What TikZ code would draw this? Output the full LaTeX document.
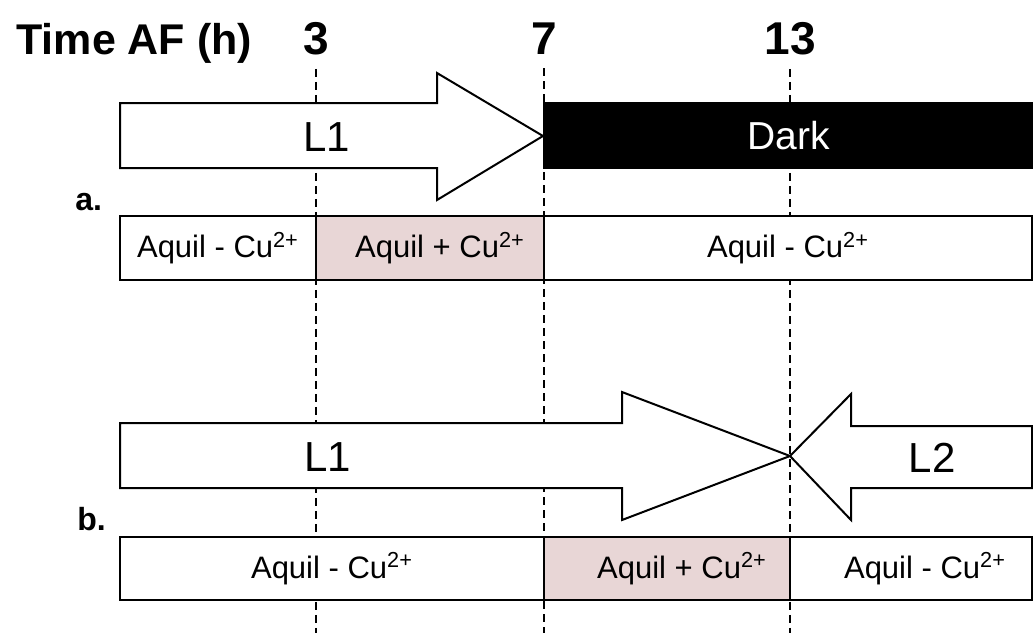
\documentclass[tikz,border=0pt]{standalone}
\usepackage{fontspec}
\setmainfont{Liberation Sans}
\usepackage{xcolor}
\definecolor{cupink}{RGB}{232,214,214}
\usetikzlibrary{positioning}

\begin{document}
\begin{tikzpicture}[
      x=0.5pt, y=-0.5pt,
      node distance=0pt,
      guide/.style={draw=black, line width=0.9pt, dash pattern=on 4pt off 2.5pt},
      timelbl/.style={font=\fontsize{23}{28}\selectfont\bfseries, anchor=base, inner sep=7pt},
      panel/.style={font=\fontsize{16}{19}\selectfont\bfseries, anchor=base west, inner sep=0pt},
      lightarrow/.style={draw=black, line width=1pt, fill=white, line join=miter},
      lightlbl/.style={font=\fontsize{21}{25}\selectfont},
      seg/.style={draw=black, line width=1pt, fill=white, outer sep=0pt, inner sep=0pt,
                  minimum height=32pt, font=\fontsize{15.5}{19}\selectfont},
      pinkseg/.style={seg, fill=cupink},
      darkbox/.style={draw=black, fill=black, line width=1pt, outer sep=0pt, inner sep=0pt,
                      minimum width=244.5pt, minimum height=32.5pt, text=white,
                      font=\fontsize{19.5}{23}\selectfont}
    ]
    \useasboundingbox (0,0) rectangle (1033,633);

    % time axis
    \node[timelbl, font=\fontsize{21.5}{26}\selectfont\bfseries, anchor=base west, inner sep=0pt]
      (title) at (16,54) {Time AF (h)};
    \foreach \t/\x in {3/316, 7/544, 13/790} {
      \node[timelbl] (h\t) at (\x,54) {\t};
      \coordinate (e\t) at (\x,633);
      \draw[guide] (h\t.south) -- (e\t);
    }

    % a.
    \draw[lightarrow] (120,103) -- (437,103) -- (437,73) -- (543,136)
      -- (437,200) -- (437,168) -- (120,168) -- cycle;
    \node[lightlbl] (l1a) at (327,137) {L1};
    \node[darkbox, anchor=north west] (dark) at (544,103) {Dark};

    \node[panel] (pa) at (75,210) {a.};
    \node[seg, minimum width=98pt, anchor=north west] (a1) at (120,216)
      {Aquil - Cu\textsuperscript{2+}};
    \node[pinkseg, minimum width=114pt, right=of a1] (a2)
      {\hspace{10pt}Aquil + Cu\textsuperscript{2+}};
    \node[seg, minimum width=244pt, right=of a2] (a3)
      {Aquil - Cu\textsuperscript{2+}};

    % b.
    \draw[lightarrow] (120,423) -- (622,423) -- (622,392) -- (790,456)
      -- (622,520) -- (622,488) -- (120,488) -- cycle;
    \draw[lightarrow] (1032,426) -- (851,426) -- (851,394) -- (790,456)
      -- (851,520) -- (851,488) -- (1032,488) -- cycle;
    \node[lightlbl] (l1b) at (328,457) {L1};
    \node[lightlbl] (l2b) at (932,458) {L2};

    \node[panel] (pb) at (77,530) {b.};
    \node[seg, minimum width=212pt, minimum height=31.5pt, anchor=north west] (b1) at (120,537)
      {Aquil - Cu\textsuperscript{2+}};
    \node[pinkseg, minimum width=123pt, minimum height=31.5pt, right=of b1] (b2)
      {\hspace{15pt}Aquil + Cu\textsuperscript{2+}};
    \node[seg, minimum width=121pt, minimum height=31.5pt, right=of b2] (b3)
      {\hspace{14pt}Aquil - Cu\textsuperscript{2+}};
  \end{tikzpicture}
\end{document}
